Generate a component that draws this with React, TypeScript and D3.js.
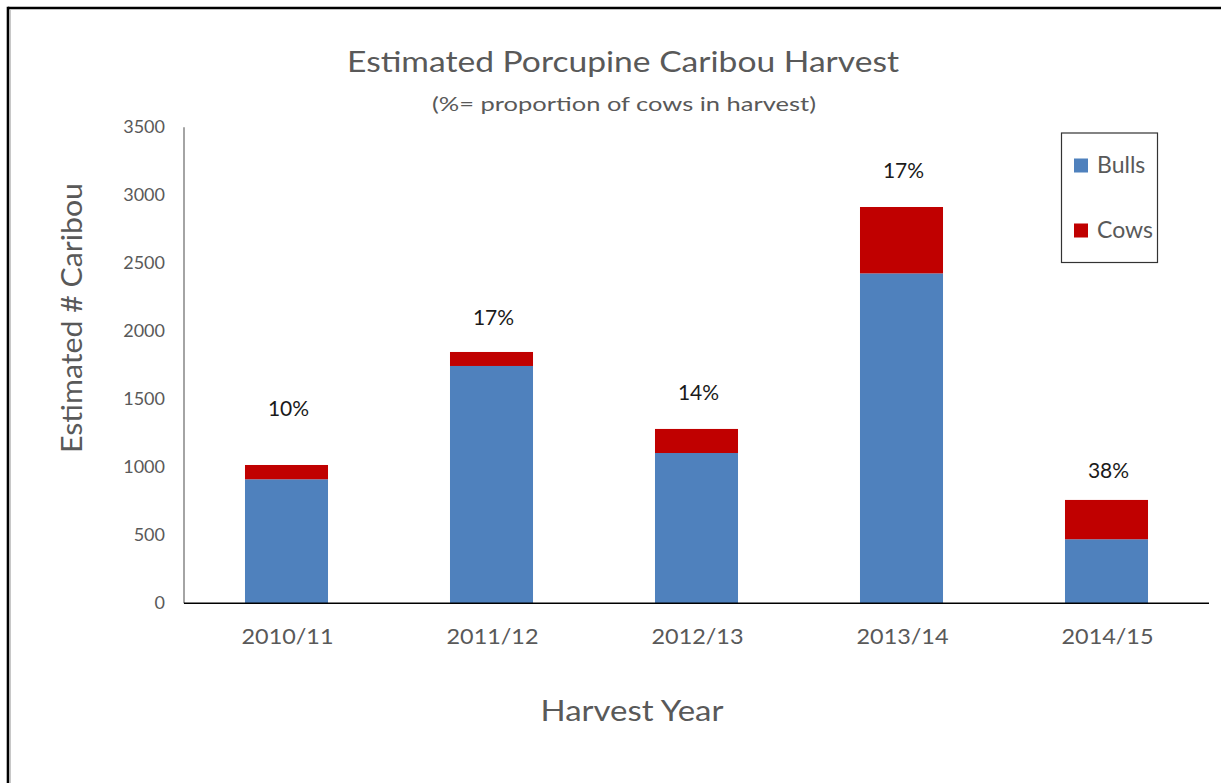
import React from "react";
import * as d3 from "d3";

const years = ["2010/11", "2011/12", "2012/13", "2013/14", "2014/15"];
const bulls = [912, 1745, 1105, 2426, 471];
const cows = [105, 103, 177, 488, 289];
const cowShareLabels = ["10%", "17%", "14%", "17%", "38%"];
const yTicks = [0, 500, 1000, 1500, 2000, 2500, 3000, 3500];
const seriesNames = ["Bulls", "Cows"];

const W = 1221;
const H = 783;
const FONT = "Lato, 'Open Sans', sans-serif";
const GRAY = "#595959";
const BLUE = "#4F81BD";
const RED = "#C00000";

export default function App() {
  const left = 184;
  const right = 1209;
  const top = 127.3;
  const bottom = 603.3;

  const x = d3.scaleBand<string>().domain(years).range([left, right]).paddingInner(0.595).paddingOuter(0.2975);
  const y = d3.scaleLinear().domain([0, 3500]).range([bottom, top]);

  const rows = years.map((yr, i) => ({ year: yr, Bulls: bulls[i], Cows: cows[i] }));
  const stack = d3.stack<any>().keys(seriesNames)(rows);
  const colors = [BLUE, RED];
  const labelLift = [56, 34, 36, 36, 29];

  return (
    <svg width={W} height={H} style={{ position: "absolute", left: 0, top: 0, background: "#fff" }}>
      <rect x={0} y={0} width={W} height={H} fill="#fff" />
      {/* outer frame */}
      <line x1={8} y1={8} x2={W} y2={8} stroke="#000" strokeWidth={2.6} />
      <line x1={8} y1={6.7} x2={8} y2={H} stroke="#000" strokeWidth={2.6} />
      <line x1={10.3} y1={10} x2={10.3} y2={H} stroke="#bbb" strokeWidth={1} />

      {/* titles */}
      <text x={623} y={72} textAnchor="middle" fontFamily={FONT} fontSize={28} fill={GRAY} textLength={552} lengthAdjust="spacingAndGlyphs">
        Estimated Porcupine Caribou Harvest
      </text>
      <text x={624} y={111} textAnchor="middle" fontFamily={FONT} fontSize={20} fill={GRAY} textLength={384} lengthAdjust="spacingAndGlyphs">
        (%= proportion of cows in harvest)
      </text>

      {/* y axis */}
      <line x1={left} y1={top} x2={left} y2={bottom} stroke="#868686" strokeWidth={1.5} />
      {yTicks.map((t) => (
        <text key={t} x={165} y={y(t) + 6} textAnchor="end" fontFamily={FONT} fontSize={18} fill={GRAY}>
          {t}
        </text>
      ))}
      <text
        transform={`translate(82,318) rotate(-90)`}
        textAnchor="middle"
        fontFamily={FONT}
        fontSize={28}
        fill={GRAY}
        textLength={270}
        lengthAdjust="spacingAndGlyphs"
      >
        Estimated # Caribou
      </text>

      {/* bars */}
      {stack.map((s, si) =>
        s.map((d, i) => (
          <rect
            key={`${si}-${i}`}
            x={x(years[i])}
            y={y(d[1])}
            width={x.bandwidth()}
            height={y(d[0]) - y(d[1])}
            fill={colors[si]}
          />
        ))
      )}

      {/* x axis */}
      <line x1={left} y1={bottom} x2={right} y2={bottom} stroke="#000" strokeWidth={1.5} />
      {years.map((yr) => (
        <text key={yr} x={(x(yr) as number) + x.bandwidth() / 2 + 1} y={644} textAnchor="middle" fontFamily={FONT} fontSize={22} fill={GRAY} textLength={92} lengthAdjust="spacingAndGlyphs">
          {yr}
        </text>
      ))}
      <text x={632} y={721} textAnchor="middle" fontFamily={FONT} fontSize={28} fill={GRAY} textLength={183} lengthAdjust="spacingAndGlyphs">
        Harvest Year
      </text>

      {/* percent labels */}
      {years.map((yr, i) => (
        <text
          key={`l-${yr}`}
          x={(x(yr) as number) + x.bandwidth() / 2 + 2}
          y={y(bulls[i] + cows[i]) - labelLift[i] + 7.5}
          textAnchor="middle"
          fontFamily={FONT}
          fontSize={21}
          fill="#1a1a1a"
        >
          {cowShareLabels[i]}
        </text>
      ))}

      {/* legend */}
      <rect x={1061.5} y={133} width={96} height={129.5} fill="#fff" stroke="#333" strokeWidth={1.2} />
      {seriesNames.map((n, i) => (
        <g key={n} transform={`translate(0,${i * 65})`}>
          <rect x={1074} y={158.5} width={14} height={14} fill={colors[i]} />
          <text x={1097} y={172.5} fontFamily={FONT} fontSize={23} fill={GRAY}>
            {n}
          </text>
        </g>
      ))}
    </svg>
  );
}
